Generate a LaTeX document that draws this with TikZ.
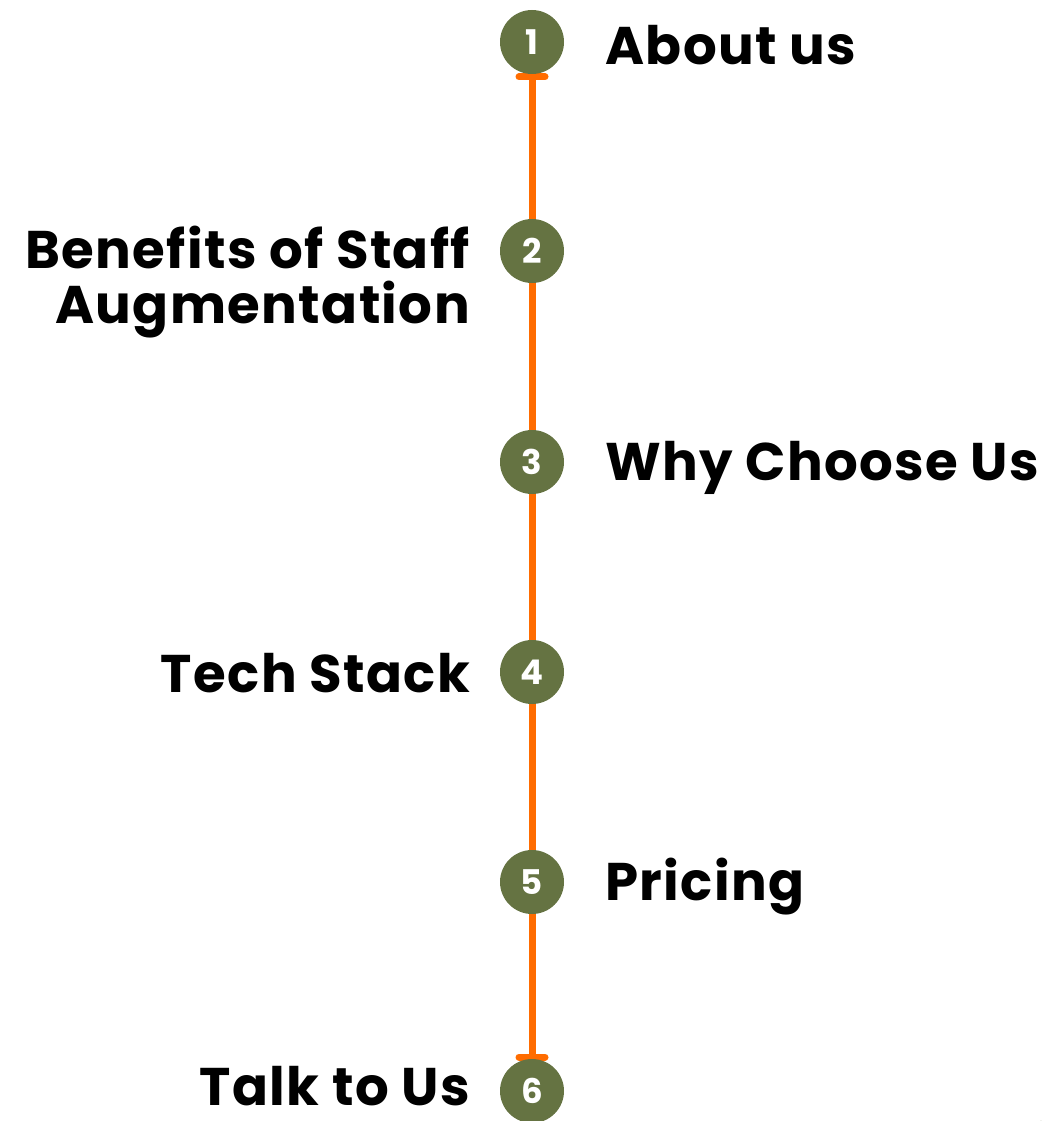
\documentclass[tikz,border=0pt]{standalone}
\usepackage{fontspec}
\setmainfont{Poppins}[BoldFont={* Bold}]
\newfontfamily\lblfont{Poppins Bold}[LetterSpace=2.6]
\definecolor{olive}{RGB}{101,115,66}
\definecolor{lineorange}{RGB}{255,108,0}
\begin{document}
\begin{tikzpicture}[x=1pt,y=-1pt,
  stepnum/.style={circle,fill=olive,minimum size=64pt,inner sep=0pt,text=white,font=\fontsize{34}{36}\selectfont\bfseries},
  lbl/.style={font=\fontsize{53}{55}\selectfont\lblfont,text=black,inner sep=0pt},
  rail/.style={draw=lineorange,line width=7pt}]
\useasboundingbox (0,0) rectangle (1041,1121);
\begin{scope}
\clip (0,0) rectangle (1041,1121);
\fill[olive] (1062,1142) circle (30);
\end{scope}
\coordinate (top) at (532,77);
\coordinate (bot) at (532,1057);
\draw[rail] (top) -- (bot);
\draw[rail,line cap=round] ([xshift=-13pt]top) -- ([xshift=13pt]top);
\draw[rail,line cap=round] ([xshift=-13pt]bot) -- ([xshift=13pt]bot);
\node[stepnum] (c1) at (532,42) {1};
\node[stepnum] (c2) at (532,251) {2};
\node[stepnum] (c3) at (532,462) {3};
\node[stepnum] (c4) at (532,672) {4};
\node[stepnum] (c5) at (532,882) {5};
\node[stepnum] (c6) at (532,1091) {6};
\node[lbl,anchor=base west] (t1) at (605,65) {About us};
\node[lbl,anchor=base east] (t2a) at (470,268) {Benefits of Staff};
\node[lbl,anchor=base east] (t2b) at (470,323) {Augmentation};
\node[lbl,anchor=base west] (t3) at (605,480) {Why Choose Us};
\node[lbl,anchor=base east] (t4) at (470,692) {Tech Stack};
\node[lbl,anchor=base west] (t5) at (605,900) {Pricing};
\node[lbl,anchor=base east,text depth=0pt] (t6) at (470,1105) {Talk to Us};
\end{tikzpicture}
\end{document}
